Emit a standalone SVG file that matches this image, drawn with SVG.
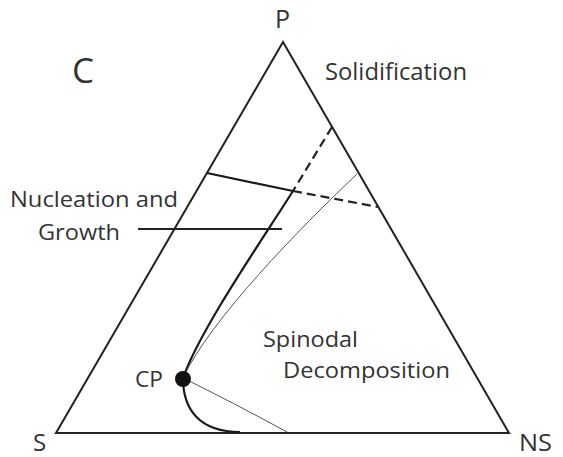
<svg xmlns="http://www.w3.org/2000/svg" width="563" height="457" viewBox="0 0 563 457">
<style>
text{font-family:"Open Sans","Liberation Sans",sans-serif;fill:#333}
.edge{fill:none;stroke:#222;stroke-width:2;stroke-linejoin:miter}
.bin{fill:none;stroke:#1a1a1a;stroke-width:2.2}
.dash{fill:none;stroke:#222;stroke-width:2.2;stroke-dasharray:9,5}
.spin{fill:none;stroke:#555;stroke-width:1}
</style>
<rect width="563" height="457" fill="#fff"/>
<g id="triangle">
<path class="edge" d="M56,433 L283,42 L509,433 Z"/>
</g>
<g id="connectors">
<line class="bin" x1="207" y1="173" x2="293" y2="191"/>
<line class="dash" x1="293" y1="191" x2="378" y2="207"/>
<line class="dash" x1="332" y1="127" x2="293" y2="191"/>
<path class="bin" d="M293,191 C260,243 200,330 183,378"/>
<path class="bin" d="M183,378 C183,410 200,432 240,432"/>
<path class="spin" d="M357,174 C300,228 210,320 183,378"/>
<path class="spin" d="M183,378 Q232,402 287,432"/>
<line class="edge" x1="138" y1="229" x2="282" y2="229"/>
</g>
<g id="CP">
<circle cx="183" cy="379" r="8" fill="#111"/>
<text x="135" y="387" font-size="21" textLength="28" lengthAdjust="spacingAndGlyphs">CP</text>
</g>
<g id="labels">
<text x="275" y="28" font-size="25">P</text>
<text x="72" y="83" font-size="35">C</text>
<text x="325" y="80" font-size="23" textLength="142" lengthAdjust="spacingAndGlyphs">Solidification</text>
<text x="10" y="207" font-size="22" textLength="168" lengthAdjust="spacingAndGlyphs">Nucleation and</text>
<text x="38" y="240" font-size="22" textLength="82" lengthAdjust="spacingAndGlyphs">Growth</text>
<text x="263" y="347" font-size="22" textLength="95" lengthAdjust="spacingAndGlyphs">Spinodal</text>
<text x="283" y="378" font-size="22" textLength="167" lengthAdjust="spacingAndGlyphs">Decomposition</text>
<text x="33" y="451" font-size="24">S</text>
<text x="519" y="451" font-size="24" textLength="33" lengthAdjust="spacingAndGlyphs">NS</text>
</g>
</svg>
